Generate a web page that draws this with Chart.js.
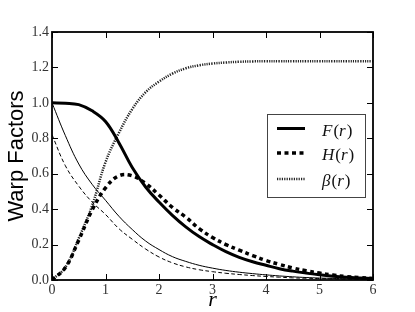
<!DOCTYPE html>
<html>
<head>
<meta charset="utf-8">
<script src="https://cdn.jsdelivr.net/npm/chart.js@4/dist/chart.umd.min.js"></script>
<style>
  html, body { margin: 0; padding: 0; background: #fff; }
  #chart { display: block; }
</style>
</head>
<body>
<canvas id="chart" width="415" height="312"></canvas>
<script>
const rValues = [0, 0.25, 0.5, 0.75, 1, 1.25, 1.5, 1.75, 2, 2.25, 2.5, 2.75, 3,
                 3.25, 3.5, 3.75, 4, 4.25, 4.5, 4.75, 5, 5.25, 5.5, 5.75, 6];
const fValues = [1.0, 0.998, 0.99, 0.955, 0.895, 0.775, 0.635, 0.525, 0.44, 0.365, 0.30, 0.245, 0.20,
                 0.16, 0.128, 0.103, 0.083, 0.064, 0.05, 0.039, 0.029, 0.021, 0.015, 0.011, 0.008];
const hValues = [0, 0.07, 0.225, 0.395, 0.52, 0.588, 0.588, 0.545, 0.48, 0.41, 0.355, 0.29, 0.24,
                 0.20, 0.168, 0.138, 0.11, 0.088, 0.068, 0.052, 0.039, 0.028, 0.019, 0.013, 0.009];
const betaValues = [0, 0.072, 0.235, 0.42, 0.665, 0.83, 0.965, 1.06, 1.12, 1.165, 1.195, 1.212, 1.222,
                    1.228, 1.232, 1.234, 1.235, 1.235, 1.235, 1.235, 1.235, 1.235, 1.235, 1.235, 1.235];
const thinSolidValues = [1.0, 0.815, 0.655, 0.54, 0.45, 0.36, 0.285, 0.22, 0.172, 0.132, 0.105, 0.083, 0.067,
                         0.054, 0.044, 0.036, 0.029, 0.023, 0.018, 0.014, 0.011, 0.009, 0.007, 0.005, 0.004];
const thinDashedValues = [0.82, 0.645, 0.53, 0.44, 0.37, 0.29, 0.23, 0.175, 0.13, 0.097, 0.074, 0.058, 0.047,
                          0.038, 0.031, 0.025, 0.02, 0.016, 0.012, 0.01, 0.008, 0.006, 0.005, 0.004, 0.003];

const xTicks = [0, 1, 2, 3, 4, 5, 6];
const yTicks = [0, 0.2, 0.4, 0.6, 0.8, 1.0, 1.2, 1.4];
const legendLabels = [["F", "(", "r", ")"], ["H", "(", "r", ")"], ["β", "(", "r", ")"]];

const toPoints = vals => rValues.map((r, i) => ({ x: r, y: vals[i] }));

Chart.defaults.font.family = "'Liberation Serif', serif";

// matplotlib-like frame with inward ticks on all four sides
const framePlugin = {
  id: 'frame',
  afterDraw(chart) {
    const { ctx, chartArea: a, scales } = chart;
    ctx.save();
    ctx.strokeStyle = '#000';
    ctx.lineWidth = 1;
    ctx.beginPath();
    xTicks.forEach(v => {
      const px = Math.round(scales.x.getPixelForValue(v)) + 0.5;
      ctx.moveTo(px, a.bottom); ctx.lineTo(px, a.bottom - 6);
      ctx.moveTo(px, a.top); ctx.lineTo(px, a.top + 6);
    });
    yTicks.forEach(v => {
      const py = Math.round(scales.y.getPixelForValue(v)) + 0.5;
      ctx.moveTo(a.left, py); ctx.lineTo(a.left + 6, py);
      ctx.moveTo(a.right, py); ctx.lineTo(a.right - 6, py);
    });
    ctx.stroke();
    ctx.lineWidth = 1.8;
    ctx.strokeRect(a.left, a.top, a.right - a.left, a.bottom - a.top);
    ctx.restore();
  }
};

const legendPlugin = {
  id: 'boxLegend',
  afterDraw(chart) {
    const ctx = chart.ctx;
    const bx = 267, by = 114, bw = 98, bh = 83;
    ctx.save();
    ctx.fillStyle = '#fff';
    ctx.fillRect(bx, by, bw, bh);
    ctx.strokeStyle = '#444';
    ctx.lineWidth = 1;
    ctx.strokeRect(bx + 0.5, by + 0.5, bw, bh);
    const rows = [128.5, 153, 179];
    chart.data.datasets.slice(0, 3).forEach((ds, i) => {
      const y = rows[i];
      ctx.strokeStyle = ds.borderColor;
      ctx.lineWidth = ds.borderWidth;
      ctx.setLineDash(ds.borderDash || []);
      ctx.beginPath();
      ctx.moveTo(277, y);
      ctx.lineTo(305, y);
      ctx.stroke();
      ctx.setLineDash([]);
      let x = 322;
      ctx.fillStyle = '#111';
      ctx.textBaseline = 'middle';
      legendLabels[i].forEach((part, k) => {
        const italic = k % 2 === 0;
        ctx.font = (italic ? 'italic ' : '') + '17px "Liberation Serif", serif';
        ctx.fillText(part, x, y + 3);
        x += ctx.measureText(part).width + (italic ? 1 : 0);
      });
    });
    ctx.restore();
  }
};

const tickFont = { family: "'Liberation Serif', serif", size: 14 };

new Chart(document.getElementById('chart').getContext('2d'), {
  type: 'line',
  data: {
    datasets: [
      {
        label: 'F(r)',
        data: toPoints(fValues),
        borderColor: '#000',
        borderWidth: 3,
      },
      {
        label: 'H(r)',
        data: toPoints(hValues),
        borderColor: '#000',
        borderWidth: 3.5,
        borderDash: [4, 3.5],
      },
      {
        label: 'β(r)',
        data: toPoints(betaValues),
        borderColor: '#222',
        borderWidth: 2.5,
        borderDash: [1.2, 1.2],
      },
      {
        label: 'thin solid',
        data: toPoints(thinSolidValues),
        borderColor: '#000',
        borderWidth: 1,
      },
      {
        label: 'thin dashed',
        data: toPoints(thinDashedValues),
        borderColor: '#000',
        borderWidth: 1,
        borderDash: [4, 2.5],
      }
    ]
  },
  options: {
    responsive: false,
    animation: false,
    devicePixelRatio: 1,
    layout: { padding: { left: 0, right: 42, top: 32, bottom: 0 } },
    elements: {
      point: { radius: 0 },
      line: { tension: 0.4, fill: false, borderCapStyle: 'butt' }
    },
    plugins: {
      legend: { display: false },
      tooltip: { enabled: false }
    },
    scales: {
      x: {
        type: 'linear',
        min: 0,
        max: 6,
        afterBuildTicks: s => { s.ticks = xTicks.map(v => ({ value: v })); },
        afterFit: s => { s.height = 32; },
        grid: { display: false, drawTicks: false },
        border: { display: false },
        ticks: { font: tickFont, color: '#333', padding: 2, maxRotation: 0,
                 callback: v => String(v) },
        title: {
          display: true,
          text: 'r',
          font: { family: "'Liberation Serif', serif", size: 22, style: 'italic', lineHeight: 1 },
          color: '#000',
          padding: { top: 0, bottom: 1 }
        }
      },
      y: {
        min: 0,
        max: 1.4,
        afterBuildTicks: s => { s.ticks = yTicks.map(v => ({ value: v })); },
        afterFit: s => { s.width = 52; },
        grid: { display: false, drawTicks: false },
        border: { display: false },
        ticks: { font: tickFont, color: '#333', padding: 3,
                 callback: v => v.toFixed(1) },
        title: {
          display: true,
          text: 'Warp Factors',
          font: { family: "'Liberation Sans', sans-serif", size: 22, lineHeight: 1 },
          color: '#000',
          padding: { top: 6, bottom: 0 }
        }
      }
    }
  },
  plugins: [framePlugin, legendPlugin]
});
</script>
</body>
</html>
